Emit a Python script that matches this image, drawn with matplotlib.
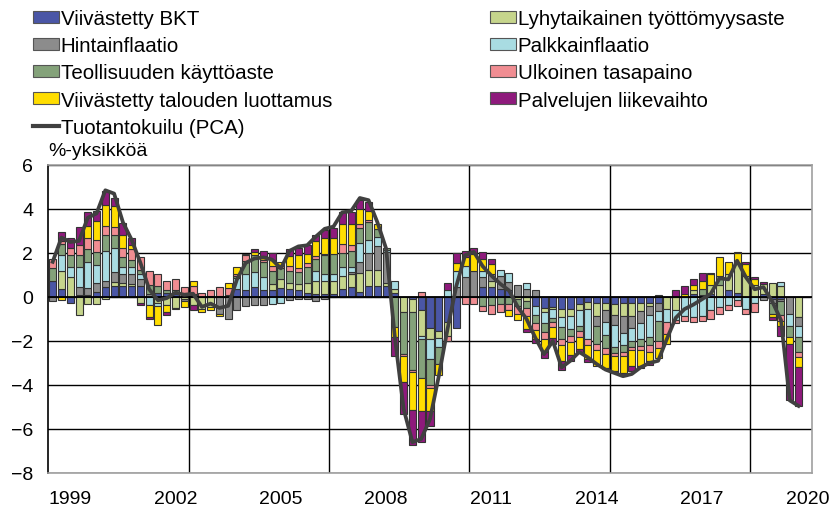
import numpy as np
import matplotlib
matplotlib.use("Agg")
import matplotlib.pyplot as plt
from matplotlib.patches import Patch
from matplotlib.lines import Line2D

plt.rcParams['font.family'] = ['Liberation Sans', 'DejaVu Sans']

# quarterly categories 1999Q1 .. 2020Q3 (last slot is empty)
quarters = [f"{y}Q{q}" for y in range(1999, 2021) for q in range(1, 5)][:87]
year_labels = ['1999', '2002', '2005', '2008', '2011', '2014', '2017', '2020']
grid_quarters = ['2003Q1', '2007Q1', '2011Q1', '2015Q1', '2019Q1']

bkt = [0.75, 0.35, -0.25, 0.1, 0.1, 0.25, 0.45, 0.5, 0.5, 0.5,
       0.5, 0, 0.2, 0.2, 0.15, 0.1, 0.1, 0, 0, 0,
       0, 0.35, 0.3, 0.45, 0.3, 0.3, 0.4, 0.35, 0.3, 0.2,
       0.15, 0.15, 0.15, 0.35, 0.45, 0.25, 0.5, 0.5, 0.5, 0.2,
       0, -0.1, -0.6, -1.4, -1.55, -1.15, -1.4, 0, 0, 0.45,
       0.45, 0.35, 0.3, 0, 0, -0.4, -0.5, -0.45, -0.55, -0.55,
       -0.3, -0.24, -0.25, -0.28, -0.3, -0.28, -0.28, -0.28, -0.25, -0.25,
       0, 0, 0, 0.15, 0.1, 0.15, 0, 0.3, 0.2, 0,
       0, 0.15, -0.1, -0.1, 0, 0]
lyhyt = [0, 0.85, 0.9, -0.8, -0.3, -0.3, -0.1, 0.2, 0.15, 0.1,
         -0.25, 0, -0.25, -0.35, -0.5, -0.1, -0.35, -0.55, -0.45, 0,
         0, 0, 0, 0, 0, 0.3, 0.4, 0.3, 0.3, 0.45,
         0.6, 0.6, 0.6, 0.6, 0.6, 0.85, 0.75, 0.75, 0.15, 0.15,
         -0.7, -0.6, -1.15, -0.5, -0.3, -0.6, 0, 0, 0, 0,
         0.3, 0, 0, -0.1, -0.2, 0, -0.2, -0.1, -0.37, -0.3,
         -0.3, -0.3, -0.6, -0.3, -0.5, -0.6, -0.6, -0.35, -0.15, 0.1,
         -0.55, -0.6, 0, 0.15, 0, 0.4, 0.55, 0.75, 1.35, 0.95,
         0.55, 0.45, 0.62, 0.5, 0, -0.92]
hinta = [-0.2, 0, 0, 0.35, 0.3, 0.4, 0.3, 0.45, 0.4, 0.45,
         0.3, 0.15, 0, 0, 0, -0.1, 0, 0, 0, -0.75,
         -1.0, -0.6, -0.4, -0.35, -0.35, 0, 0, -0.15, -0.1, -0.1,
         -0.2, -0.1, 0, 0, 0.1, 0.5, 0.75, 1.05, 1.4, 0,
         0, 0, 0, 0, 0, 0, 0.45, 0.9, 1.2, 0.45,
         0.3, 0.6, 0.4, 0.55, 0.35, 0.3, 0, 0, 0, 0,
         0, 0, -0.45, -0.55, -0.45, -0.75, -0.55, -0.55, -0.4, -0.4,
         0, 0, 0, 0, 0, 0, 0, 0, 0, 0,
         0, -0.15, -0.15, -0.1, -0.77, -0.38]
palkka = [0, 0.7, 0.45, 0.9, 1.2, 0.8, 1.35, 1.1, 0.3, 0.3,
          0.25, -0.35, -0.15, 0, 0, 0, 0, 0, 0, 0,
          0, 0.5, 0.75, 0.7, 0.6, -0.3, -0.25, 0, 0, 0,
          0.45, 0.3, 0.3, 0.4, 0.2, 0.85, 0.6, 0.45, 0.1, 0.4,
          0, 0, -0.15, -0.9, -0.4, 0.3, 0.75, 0.5, 0, 0.3,
          0, 0.3, 0.4, 0, 0.3, -0.4, -0.5, -0.4, -0.45, -0.6,
          -0.7, -1.36, 0, -0.6, -1.0, -0.55, -0.55, -0.75, -1.0, -0.45,
          -0.6, -0.45, -0.85, -0.9, -0.85, -0.6, -0.45, -0.35, -0.15, -0.55,
          -0.25, 0, 0, 0.2, -0.53, -0.53]
teoll = [0.55, 0.5, 0.55, 0.55, 0.6, 0.6, 0.7, 0.55, 0.45, 0.35,
         0.2, 0.4, 0.3, 0.1, 0.15, 0.1, 0.05, 0, 0.05, 0.05,
         0.1, 0.1, 0.6, 0.75, 0.7, 0.6, 0.5, 0.55, 0.55, 0.7,
         0.55, 0.85, 0.9, 0.65, 0.75, 0.7, 0.8, 0.35, 0.1, -1.35,
         -1.9, -2.6, -1.8, -1.2, -0.8, 0, 0, 0, 0, -0.4,
         -0.35, -0.3, -0.3, -0.3, -0.3, -0.4, -0.4, -0.2, -0.53, -0.3,
         -0.23, 0, -0.85, -0.6, -0.3, -0.3, -0.3, -0.3, -0.38, -0.9,
         0, 0, 0, 0, 0.25, 0, 0.4, 0, 0, 0,
         0, 0, -0.53, -0.6, -0.53, -0.67]
ulk = [0.45, 0.15, 0.35, 0.45, 0.5, 0.55, 0.45, 0.4, 0.45, 0.5,
       0.55, 0.65, 0.55, 0.45, 0.5, 0.25, 0.35, 0.2, 0.25, 0.4,
       0.3, 0.1, 0.25, 0, 0.1, 0.2, 0.1, 0.2, 0.15, 0.2,
       0.1, 0.05, 0, 0.4, 0.25, 0.15, 0.1, 0, 0, 0,
       -0.08, -0.12, 0.25, -0.15, 0, -0.25, 0, -0.3, -0.3, -0.25,
       -0.4, -0.4, -0.3, -0.35, -0.35, -0.3, -0.3, -0.2, -0.3, -0.3,
       -0.3, -0.3, -0.25, -0.25, -0.15, -0.22, -0.15, -0.2, -0.3, -0.3,
       -0.55, -0.15, -0.25, -0.25, -0.25, -0.4, -0.3, -0.25, -0.25, -0.22,
       -0.45, 0, 0, -0.3, 0, -0.24]
luott = [0, -0.15, 0, 0, 0.55, 0.85, 0.95, 0.95, 0.55, 0.15,
         0, -0.55, -0.85, -0.35, -0.05, -0.25, 0.25, -0.15, -0.15, -0.1,
         0.25, 0.3, 0.05, 0.15, 0.15, 0.3, 0.2, 0.45, 0.6, 0.4,
         0.7, 0.75, 0.75, 0.9, 0.95, 0.7, 0.4, 0.2, 0, -0.45,
         -1.2, -1.7, -1.5, -1.05, -0.5, 0, 0.35, 0.4, 0.75, 0.55,
         0.45, 0, -0.25, -0.3, -0.6, -0.4, -0.6, -0.5, -0.7, -0.6,
         -0.53, -0.6, -0.75, -0.65, -0.68, -0.75, -0.7, -0.7, -0.45, -0.45,
         -0.45, 0, 0.15, 0.25, 0.4, 0.5, 0.85, 0.55, 0.45, 0.55,
         0.25, 0, -0.15, -0.2, -0.3, -0.46]
palv = [0, 0.4, 0.45, 0.85, 0.6, 0.45, 0.6, 0.35, 0.55, 0.35,
        -0.1, -0.1, 0, -0.1, 0, 0, -0.25, 0, 0, 0,
        0, 0, 0, 0.15, 0.25, 0.3, 0, 0.35, 0.35, 0.4,
        0.25, 0.35, 0.45, 0.55, 0.55, 0.4, 0.4, 0, 0, -0.9,
        -1.45, -1.6, -1.4, -0.65, 0, 0.35, 0.45, 0.3, 0.3, 0.3,
        0.25, 0, 0, 0, -0.15, -0.2, -0.25, -0.3, -0.4, -0.25,
        -0.15, -0.15, 0, -0.05, -0.07, -0.15, -0.22, -0.1, -0.15, 0,
        0, 0.3, 0.35, 0.27, 0.35, 0.05, 0, 0, 0.05, 0.1,
        0.1, 0.1, -0.1, -0.45, -2.53, -1.74]
pca = [1.6, 2.7, 2.5, 2.55, 3.6, 3.8, 4.85, 4.7, 3.4, 2.6,
       1.55, 0.35, -0.15, -0.05, 0.2, 0.1, 0.15, -0.45, -0.3, -0.5,
       -0.4, 0.8, 1.55, 1.75, 1.8, 1.7, 1.3, 2.1, 2.3, 2.35,
       2.75, 3.1, 3.2, 3.85, 3.9, 4.5, 4.4, 3.4, 2.2, -1.85,
       -5.1, -6.6, -6.45, -5.55, -3.6, -1.45, 0.5, 1.9, 2.05, 1.4,
       0.97, 0.6, 0.3, -0.45, -1.0, -1.85, -2.6, -2.0, -3.2, -2.9,
       -2.5, -2.75, -3.05, -3.3, -3.45, -3.6, -3.5, -3.2, -3.0, -2.9,
       -1.9, -0.95, -0.55, -0.35, -0.1, 0.15, 0.85, 0.8, 1.65, 0.9,
       0.35, 0.45, -0.2, -1.05, -4.7, -4.95]

# stacking order of the Excel series
series = [
    ('Viivästetty BKT', bkt, '#4a56a6'),
    ('Lyhytaikainen työttömyysaste', lyhyt, '#c6d58c'),
    ('Hintainflaatio', hinta, '#8c8c8c'),
    ('Palkkainflaatio', palkka, '#a9dce2'),
    ('Teollisuuden käyttöaste', teoll, '#84a27a'),
    ('Ulkoinen tasapaino', ulk, '#f08d92'),
    ('Viivästetty talouden luottamus', luott, '#ffdd00'),
    ('Palvelujen liikevaihto', palv, '#8e1a7c'),
]
edge = '#333333'

fig = plt.figure(figsize=(8.34, 5.10), dpi=100)
ax = fig.add_axes([48.3 / 834, 36 / 510, 763.4 / 834, 308 / 510])

n = len(pca)
x = np.arange(n)
pos_base = np.zeros(n)
neg_base = np.zeros(n)
for name, vals, col in series:
    v = np.array(vals, dtype=float)
    base = np.where(v >= 0, pos_base, neg_base)
    m = v != 0
    ax.bar(x[m], v[m], width=0.8, bottom=base[m], color=col,
           edgecolor=edge, linewidth=0.8, zorder=2)
    pos_base += np.clip(v, 0, None)
    neg_base += np.clip(v, None, 0)

ax.plot(x, pca, color='#404040', lw=2.7, zorder=4)

ax.set_xlim(-0.5, len(quarters) - 0.5)
ax.set_ylim(-8, 6)
ax.set_yticks(range(-8, 7, 2))
ax.set_xticks([quarters.index(y + 'Q3') for y in year_labels])
ax.set_xticklabels(year_labels)
ax.tick_params(axis='both', length=0, labelsize=14)
ax.tick_params(axis='y', pad=11)
ax.tick_params(axis='x', pad=12)

ax.yaxis.grid(True, color='black', lw=1.0)
ax.set_axisbelow(True)
for q in grid_quarters:
    ax.axvline(quarters.index(q) - 0.5, color='black', lw=1.0, zorder=1)
ax.axhline(0, color='black', lw=1.3, zorder=3)

for s in ['top', 'right', 'bottom']:
    ax.spines[s].set_color('#a0a0a0')
    ax.spines[s].set_linewidth(1.2)
ax.spines['left'].set_color('black')
ax.spines['left'].set_linewidth(1.2)

# legend: two columns like the original
def patch(name):
    col = [c for nm, v, c in series if nm == name][0]
    return Patch(facecolor=col, edgecolor='#555555', linewidth=0.8, label=name)

col1 = [patch('Viivästetty BKT'), patch('Hintainflaatio'),
        patch('Teollisuuden käyttöaste'), patch('Viivästetty talouden luottamus'),
        Line2D([], [], color='#404040', lw=3, label='Tuotantokuilu (PCA)')]
col2 = [patch('Lyhytaikainen työttömyysaste'), patch('Palkkainflaatio'),
        patch('Ulkoinen tasapaino'), patch('Palvelujen liikevaihto')]

kw = dict(loc='upper left', frameon=False, fontsize=14.8, handlelength=1.25,
          handleheight=0.52, handletextpad=0.1, labelspacing=0.4,
          borderpad=0, borderaxespad=0)
fig.legend(handles=col1, bbox_to_anchor=(33 / 834, 1 - 10 / 510), **kw)
fig.legend(handles=col2, bbox_to_anchor=(490 / 834, 1 - 10 / 510), **kw)

fig.text(48 / 834, 1 - 152 / 510, '%-yksikköä', fontsize=14, va='center', ha='left')

fig.savefig('out.png', dpi=100)
